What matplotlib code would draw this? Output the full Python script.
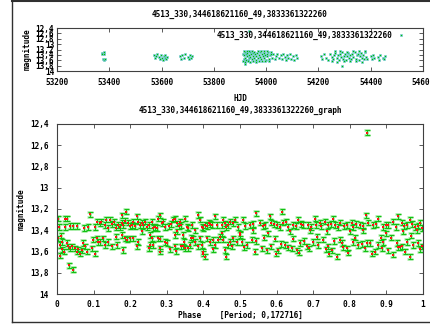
import matplotlib.pyplot as plt
from matplotlib.lines import Line2D

TITLE_TOP = "4513_330,344618621160_49,3833361322260"
TITLE_BOTTOM = "4513_330,344618621160_49,3833361322260_graph"
PERIOD_LABEL = "Phase    [Period; 0,172716]"

Y_TICKS = [12.4, 12.6, 12.8, 13.0, 13.2, 13.4, 13.6, 13.8, 14.0]
Y_TICK_LABELS = ["12,4", "12,6", "12,8", "13", "13,2", "13,4", "13,6", "13,8", "14"]
HJD_TICKS = [53200, 53400, 53600, 53800, 54000, 54200, 54400, 54600]
PHASE_TICKS = [0, 0.1, 0.2, 0.3, 0.4, 0.5, 0.6, 0.7, 0.8, 0.9, 1.0]
PHASE_TICK_LABELS = ["0", "0.1", "0.2", "0.3", "0.4", "0.5", "0.6", "0.7", "0.8", "0.9", "1"]

# light curve vs HJD
HJD = [
    53372, 53374, 53378, 53380, 53376, 53379, 53383,
    53572, 53575, 53578, 53582, 53590, 53595, 53598, 53602, 53605, 53608,
    53612, 53615, 53618, 53621,
    53672, 53675, 53680, 53684, 53688, 53700, 53705, 53708, 53712, 53716,
    53912, 53914, 53916, 53918, 53920, 53922, 53924, 53926, 53928, 53930,
    53933, 53936, 53938, 53940, 53943, 53946, 53948, 53951, 53954, 53957,
    53960, 53963, 53966, 53969, 53972, 53975, 53978, 53981, 53984, 53987,
    53990, 53993, 53996, 53999, 54002, 54005, 54008, 54012, 54016, 54020,
    54024, 54028, 54033, 54038, 54043, 54048,
    53913, 53917, 53921, 53925, 53929, 53934, 53939, 53944, 53949, 53955,
    53961, 53967, 53973, 53979, 53985, 53991, 53997, 54003, 54010, 54018,
    54058, 54062, 54066, 54071, 54076, 54080, 54085, 54090, 54096, 54102,
    54108, 54114, 54118,
    54208, 54214, 54222, 54230, 54238, 54245, 54250, 54255, 54260, 54265,
    54270, 54274, 54278, 54282, 54286, 54290, 54294, 54298, 54302, 54306,
    54310, 54314, 54318, 54322, 54326, 54330, 54334, 54338, 54342, 54346,
    54350, 54354, 54358, 54362, 54366, 54370, 54374, 54378, 54382, 54386,
    54252, 54262, 54272, 54284, 54296, 54308, 54320, 54332, 54344, 54356,
    54368, 54380,
    54402, 54406, 54410, 54414, 54428, 54432, 54436, 54448, 54452, 54456,
    53935, 53919, 54290,
]
HJD_MAG = [
    13.33, 13.36, 13.31, 13.35, 13.55, 13.58, 13.56,
    13.40, 13.52, 13.45, 13.38, 13.47, 13.55, 13.40, 13.50, 13.58, 13.45,
    13.52, 13.42, 13.55, 13.48,
    13.45, 13.55, 13.42, 13.50, 13.38, 13.48, 13.55, 13.42, 13.50, 13.46,
    13.35, 13.55, 13.42, 13.30, 13.50, 13.60, 13.37, 13.45, 13.33, 13.58,
    13.40, 13.52, 13.28, 13.47, 13.36, 13.56, 13.43, 13.32, 13.50, 13.38,
    13.60, 13.45, 13.34, 13.53, 13.40, 13.30, 13.48, 13.57, 13.36, 13.44,
    13.33, 13.52, 13.41, 13.58, 13.37, 13.46, 13.31, 13.55, 13.42, 13.35,
    13.50, 13.38, 13.56, 13.44, 13.36, 13.52,
    13.64, 13.26, 13.66, 13.24, 13.62, 13.27, 13.65, 13.25, 13.63, 13.28,
    13.66, 13.26, 13.62, 13.25, 13.64, 13.27, 13.61, 13.26, 13.63, 13.28,
    13.40, 13.55, 13.36, 13.48, 13.58, 13.42, 13.50, 13.38, 13.55, 13.45,
    13.60, 13.40, 13.52,
    13.45, 13.55, 13.38, 13.50, 13.60, 13.35, 13.48, 13.56, 13.42, 13.33,
    13.52, 13.40, 13.58, 13.36, 13.47, 13.30, 13.55, 13.43, 13.37, 13.60,
    13.45, 13.33, 13.52, 13.40, 13.57, 13.36, 13.48, 13.31, 13.54, 13.42,
    13.38, 13.58, 13.46, 13.34, 13.50, 13.40, 13.56, 13.30, 13.48, 13.55,
    13.63, 13.27, 13.65, 13.26, 13.62, 13.28, 13.64, 13.25, 13.62, 13.27,
    13.65, 13.26,
    13.45, 13.55, 13.40, 13.52, 13.48, 13.58, 13.42, 13.50, 13.56, 13.45,
    12.50, 13.74, 13.81,
]

# folded light curve
PHASE = [
    0.004, 0.005, 0.002, 0.008, 0.013, 0.015, 0.007, 0.022, 0.027, 0.022,
    0.035, 0.045, 0.054, 0.031, 0.035, 0.040, 0.034, 0.045, 0.049, 0.054,
    0.063, 0.067, 0.072, 0.077, 0.075, 0.090, 0.086, 0.081, 0.095, 0.104,
    0.104, 0.108, 0.117, 0.099, 0.108, 0.113, 0.120, 0.130, 0.135, 0.140,
    0.117, 0.126, 0.131, 0.140, 0.145, 0.150, 0.160, 0.155, 0.150, 0.160,
    0.163, 0.168, 0.172, 0.177, 0.181, 0.186, 0.177, 0.188, 0.177, 0.181,
    0.186, 0.190, 0.195, 0.200, 0.204, 0.209, 0.213, 0.218, 0.222, 0.227,
    0.231, 0.236, 0.240, 0.200, 0.209, 0.218, 0.222, 0.231, 0.250, 0.018,
    0.058, 0.010, 0.028,
    0.245, 0.250, 0.259, 0.263, 0.268, 0.272, 0.277, 0.281, 0.286, 0.290,
    0.295, 0.254, 0.259, 0.263, 0.277, 0.281, 0.281, 0.254, 0.250, 0.295,
    0.300, 0.318, 0.322, 0.327, 0.336, 0.340, 0.350, 0.354, 0.359, 0.322,
    0.327, 0.345, 0.348, 0.345, 0.350, 0.322, 0.324, 0.340, 0.359, 0.363,
    0.368, 0.377, 0.386, 0.391, 0.395, 0.400, 0.372, 0.377, 0.386, 0.391,
    0.395, 0.400, 0.404, 0.404, 0.409, 0.414, 0.418, 0.423, 0.431, 0.436,
    0.409, 0.418, 0.427, 0.431, 0.440, 0.445, 0.450, 0.454, 0.459, 0.463,
    0.468, 0.473, 0.482, 0.486, 0.495, 0.450, 0.454, 0.459, 0.463, 0.468,
    0.473, 0.482, 0.491, 0.500, 0.305, 0.312, 0.332,
    0.509, 0.527, 0.545, 0.555, 0.568, 0.582, 0.586, 0.600, 0.614, 0.618,
    0.632, 0.646, 0.659, 0.673, 0.687, 0.705, 0.709, 0.718, 0.732, 0.741,
    0.755, 0.760, 0.773, 0.791, 0.805, 0.810, 0.828, 0.844, 0.851, 0.864,
    0.878, 0.892, 0.905, 0.919, 0.933, 0.942, 0.955, 0.964, 0.978, 0.992,
    0.998, 0.515, 0.536, 0.562, 0.592, 0.608, 0.625, 0.652, 0.668, 0.695,
    0.722, 0.748, 0.768, 0.785, 0.818, 0.835, 0.872, 0.898, 0.925, 0.948,
    0.970, 0.985,
    0.500, 0.536, 0.577, 0.636, 0.691, 0.737, 0.800, 0.837, 0.900, 0.946,
    0.983,
    0.505, 0.518, 0.532, 0.559, 0.573, 0.586, 0.605, 0.623, 0.641, 0.655,
    0.664, 0.682, 0.700, 0.714, 0.728, 0.741, 0.750, 0.764, 0.778, 0.791,
    0.810, 0.823, 0.841, 0.855, 0.869, 0.878, 0.892, 0.905, 0.919, 0.928,
    0.942, 0.955, 0.964, 0.974, 0.987, 0.998, 0.545, 0.595, 0.632, 0.675,
    0.735, 0.772, 0.832, 0.885, 0.938,
    0.512, 0.541, 0.566, 0.598, 0.612, 0.645, 0.661, 0.689, 0.711, 0.744,
    0.758, 0.782, 0.795, 0.815, 0.846, 0.861, 0.888, 0.912, 0.931, 0.951,
    0.968, 0.993, 0.282, 0.308, 0.366, 0.398, 0.425, 0.478,
    0.847,
]
PHASE_MAG = [
    13.29, 13.37, 13.475, 13.54, 13.51, 13.58, 13.64, 13.29, 13.29, 13.37,
    13.36, 13.36, 13.36, 13.55, 13.57, 13.55, 13.73, 13.77, 13.57, 13.60,
    13.62, 13.59, 13.52, 13.55, 13.38, 13.25, 13.37, 13.60, 13.57, 13.62,
    13.37, 13.32, 13.335, 13.49, 13.475, 13.51, 13.32, 13.35, 13.30, 13.38,
    13.51, 13.475, 13.54, 13.51, 13.30, 13.34, 13.375, 13.32, 13.55, 13.46,
    13.54, 13.35, 13.37, 13.33, 13.35, 13.31, 13.26, 13.225, 13.445, 13.585,
    13.475, 13.49, 13.33, 13.36, 13.35, 13.32, 13.36, 13.27, 13.32, 13.35,
    13.33, 13.35, 13.32, 13.475, 13.475, 13.55, 13.51, 13.41, 13.57, 13.60,
    13.58, 13.45, 13.52,
    13.37, 13.35, 13.32, 13.38, 13.37, 13.38, 13.29, 13.26, 13.335, 13.32,
    13.37, 13.445, 13.475, 13.54, 13.475, 13.57, 13.60, 13.54, 13.57, 13.51,
    13.52, 13.30, 13.29, 13.335, 13.32, 13.35, 13.29, 13.37, 13.38, 13.445,
    13.41, 13.445, 13.51, 13.55, 13.57, 13.55, 13.595, 13.55, 13.57, 13.54,
    13.35, 13.40, 13.255, 13.30, 13.37, 13.38, 13.475, 13.51, 13.55, 13.475,
    13.54, 13.60, 13.65, 13.35, 13.36, 13.33, 13.34, 13.35, 13.27, 13.35,
    13.475, 13.51, 13.49, 13.54, 13.49, 13.46, 13.35, 13.30, 13.335, 13.37,
    13.35, 13.32, 13.335, 13.30, 13.37, 13.43, 13.49, 13.585, 13.65, 13.54,
    13.51, 13.475, 13.51, 13.445, 13.36, 13.34, 13.36,
    13.30, 13.35, 13.24, 13.33, 13.35, 13.27, 13.33, 13.35, 13.225, 13.33,
    13.37, 13.35, 13.30, 13.35, 13.35, 13.29, 13.35, 13.33, 13.32, 13.35,
    13.29, 13.35, 13.33, 13.35, 13.33, 13.37, 13.35, 13.26, 13.33, 13.35,
    13.29, 13.37, 13.35, 13.32, 13.27, 13.33, 13.35, 13.30, 13.37, 13.33,
    13.38, 13.36, 13.34, 13.36, 13.34, 13.37, 13.32, 13.36, 13.34, 13.37,
    13.36, 13.34, 13.37, 13.36, 13.34, 13.36, 13.34, 13.35, 13.37, 13.36,
    13.34, 13.36,
    13.43, 13.40, 13.43, 13.41, 13.40, 13.41, 13.41, 13.40, 13.43, 13.41,
    13.40,
    13.51, 13.54, 13.49, 13.57, 13.59, 13.55, 13.59, 13.54, 13.57, 13.59,
    13.52, 13.55, 13.51, 13.54, 13.49, 13.55, 13.59, 13.65, 13.52, 13.57,
    13.51, 13.54, 13.57, 13.52, 13.60, 13.54, 13.51, 13.59, 13.63, 13.52,
    13.55, 13.51, 13.65, 13.54, 13.52, 13.55, 13.50, 13.48, 13.56, 13.50,
    13.58, 13.49, 13.53, 13.47, 13.56,
    13.56, 13.60, 13.47, 13.62, 13.53, 13.48, 13.61, 13.57, 13.46, 13.62,
    13.50, 13.56, 13.61, 13.47, 13.52, 13.62, 13.57, 13.47, 13.56, 13.60,
    13.45, 13.58, 13.48, 13.58, 13.47, 13.62, 13.58, 13.55,
    12.48,
]
MAG_ERR = 0.025

FONT = dict(family="DejaVu Sans Mono", weight="bold", size=5.6)
plt.rcParams["font.family"] = "DejaVu Sans Mono"
plt.rcParams["font.weight"] = "bold"
plt.rcParams["font.size"] = 5.6

W, H = 431, 327
fig = plt.figure(figsize=(W / 100, H / 100), dpi=100)

# outer frame of the cropped page
frame = "#303030"
fig.add_artist(Line2D([12 / W, 12 / W], [1, 1 - 322 / H], color=frame, lw=1.0))
fig.add_artist(Line2D([12 / W, 1], [1 - 0.8 / H, 1 - 0.8 / H], color=frame, lw=1.5))
fig.add_artist(Line2D([12 / W, 1], [1 - 322 / H, 1 - 322 / H], color=frame, lw=1.0))


def style_axes(ax):
    for s in ax.spines.values():
        s.set_color("#404040")
        s.set_linewidth(0.8)
    ax.tick_params(direction="in", length=3, width=0.6, color="#404040",
                   top=True, right=True, labelsize=5.6)
    ax.set_ylim(14, 12.4)
    ax.set_yticks(Y_TICKS)


# top: magnitude vs HJD
ax1 = fig.add_axes([57 / W, 1 - 71 / H, 366 / W, 43 / H])
style_axes(ax1)
ax1.set_yticklabels(Y_TICK_LABELS)
ax1.tick_params(axis="y", pad=2)
ax1.tick_params(axis="x", pad=5)
ax1.set_xlim(53200, 54600)
ax1.set_xticks(HJD_TICKS)
ax1.plot(HJD, HJD_MAG, "s", ms=1.7, mfc="#00c000", mec="#7cc4f4", mew=0.4,
         label=TITLE_TOP, clip_on=False)
ax1.set_title(TITLE_TOP, pad=8, fontdict=FONT)
ax1.set_xlabel("HJD", labelpad=5, fontdict=FONT)
ax1.set_ylabel("magnitude", labelpad=3, fontdict=FONT)
ax1.legend(loc="center right", bbox_to_anchor=(410 / W, 1 - 35 / H),
           bbox_transform=fig.transFigure, frameon=False, markerfirst=False,
           handlelength=1.2, handletextpad=0.6, borderpad=0, prop=FONT)

# bottom: folded light curve
ax2 = fig.add_axes([57 / W, 1 - 294 / H, 366 / W, 170 / H])
style_axes(ax2)
ax2.set_yticklabels(Y_TICK_LABELS)
ax2.tick_params(axis="y", pad=6)
ax2.tick_params(axis="x", pad=4)
ax2.set_xlim(0, 1)
ax2.set_xticks(PHASE_TICKS)
ax2.set_xticklabels(PHASE_TICK_LABELS)
ax2.errorbar(PHASE, PHASE_MAG, yerr=MAG_ERR, fmt="none", ecolor="#a8eca8",
             elinewidth=2.2, capsize=2.2, capthick=2.0)
ax2.errorbar(PHASE, PHASE_MAG, yerr=MAG_ERR, fmt="none", ecolor="#10c010",
             elinewidth=0.7, capsize=1.8, capthick=0.7)
ax2.plot(PHASE, PHASE_MAG, "s", ms=2.0, mfc="#ff1010", mec="#ff1010", mew=0)
ax2.set_title(TITLE_BOTTOM, pad=8, fontdict=FONT)
ax2.set_xlabel(PERIOD_LABEL, labelpad=2, fontdict=FONT)
ax2.set_ylabel("magnitude", labelpad=3, fontdict=FONT)

fig.savefig("out.png", dpi=100)
